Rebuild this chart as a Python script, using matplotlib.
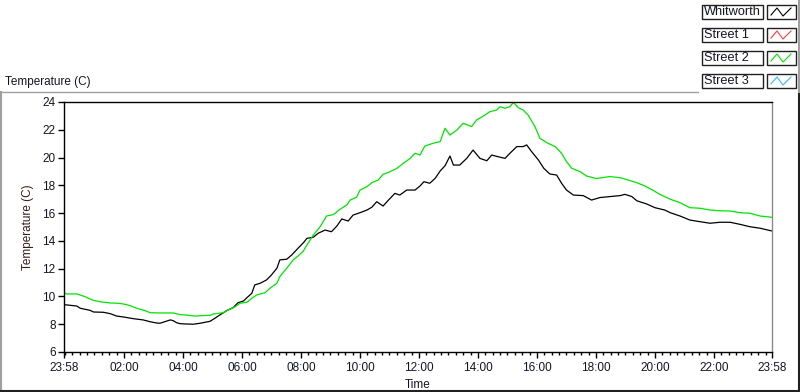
import matplotlib
matplotlib.use("Agg")
import matplotlib.pyplot as plt
from matplotlib.lines import Line2D
from matplotlib.patches import Rectangle

# ---------------- data ----------------
series_names = ["Whitworth", "Street 1", "Street 2", "Street 3"]
series_colors = ["#000000", "#ff3b3b", "#00e400", "#33bbff"]
start_clock = "23:58"

whitworth_times = [
    "23:58", "00:24", "00:31", "00:51", "00:58", "01:18", "01:32", "01:45", "01:59", "02:19",
    "02:39", "02:53", "03:06", "03:13", "03:23", "03:34", "03:40", "03:47", "03:54", "04:04",
    "04:21", "04:35", "04:55", "05:05", "05:15", "05:29", "05:42", "05:52", "06:03", "06:10",
    "06:20", "06:26", "06:37", "06:50", "07:00", "07:11", "07:17", "07:31", "07:41", "07:54",
    "08:05", "08:12", "08:25", "08:35", "08:49", "09:02", "09:13", "09:23", "09:36", "09:46",
    "10:00", "10:14", "10:24", "10:34", "10:47", "10:58", "11:11", "11:21", "11:35", "11:52",
    "12:02", "12:10", "12:22", "12:33", "12:43", "12:53", "13:03", "13:10", "13:23", "13:37",
    "13:50", "14:04", "14:18", "14:28", "14:41", "14:55", "15:05", "15:19", "15:32", "15:39",
    "15:49", "16:03", "16:14", "16:26", "16:40", "16:50", "17:00", "17:14", "17:34", "17:51",
    "18:08", "18:28", "18:49", "18:59", "19:13", "19:23", "19:43", "20:00", "20:20", "20:31",
    "20:51", "21:11", "21:32", "21:52", "22:12", "22:33", "22:53", "23:13", "23:34", "23:58+",
]
whitworth_temp = [
    9.41, 9.31, 9.15, 9.00, 8.88, 8.86, 8.76, 8.59, 8.52, 8.40,
    8.31, 8.18, 8.09, 8.07, 8.18, 8.31, 8.26, 8.11, 8.04, 8.02,
    8.00, 8.07, 8.21, 8.43, 8.67, 8.98, 9.19, 9.55, 9.67, 9.91,
    10.23, 10.83, 10.95, 11.19, 11.55, 12.03, 12.63, 12.68, 12.98, 13.47,
    13.87, 14.18, 14.26, 14.55, 14.78, 14.66, 15.07, 15.58, 15.43, 15.86,
    16.03, 16.22, 16.42, 16.82, 16.51, 16.94, 17.42, 17.30, 17.66, 17.66,
    17.95, 18.26, 18.15, 18.51, 19.03, 19.41, 20.11, 19.46, 19.46, 19.94,
    20.54, 19.94, 19.77, 20.18, 20.06, 19.94, 20.31, 20.79, 20.79, 20.91,
    20.43, 19.82, 19.22, 18.82, 18.74, 18.15, 17.66, 17.30, 17.26, 16.94,
    17.12, 17.19, 17.26, 17.35, 17.19, 16.89, 16.66, 16.39, 16.22, 16.03,
    15.79, 15.50, 15.38, 15.27, 15.34, 15.34, 15.19, 15.02, 14.91, 14.71,
]

street2_times = [
    "23:58", "00:03", "00:24", "00:31", "00:41", "00:51", "00:58", "01:11", "01:32", "01:48",
    "02:02", "02:12", "02:26", "02:43", "02:53", "03:13", "03:40", "03:54", "04:04", "04:24",
    "04:55", "05:02", "05:22", "05:32", "05:46", "05:56", "06:10", "06:20", "06:30", "06:47",
    "06:57", "07:11", "07:17", "07:31", "07:44", "07:54", "08:05", "08:08", "08:25", "08:39",
    "08:52", "09:06", "09:19", "09:33", "09:40", "09:53", "10:00", "10:14", "10:24", "10:37",
    "10:47", "11:01", "11:15", "11:28", "11:42", "11:52", "12:02", "12:12", "12:29", "12:43",
    "12:53", "13:03", "13:17", "13:30", "13:47", "13:57", "14:11", "14:24", "14:38", "14:45",
    "14:55", "15:05", "15:12", "15:22", "15:32", "15:42", "15:56", "16:06", "16:20", "16:37",
    "16:50", "17:00", "17:11", "17:28", "17:41", "18:01", "18:28", "18:49", "19:06", "19:23",
    "19:40", "19:57", "20:10", "20:31", "20:51", "21:11", "21:32", "21:52", "22:12", "22:33",
    "22:53", "23:13", "23:34", "23:58+",
]
street2_temp = [
    10.27, 10.18, 10.18, 10.10, 9.98, 9.82, 9.72, 9.62, 9.53, 9.51,
    9.44, 9.34, 9.15, 8.98, 8.83, 8.81, 8.81, 8.69, 8.67, 8.59,
    8.64, 8.74, 8.83, 9.03, 9.26, 9.51, 9.58, 9.87, 10.11, 10.27,
    10.59, 10.95, 11.43, 12.03, 12.63, 12.91, 13.27, 13.47, 14.42, 15.02,
    15.79, 15.89, 16.27, 16.58, 16.94, 17.14, 17.66, 17.90, 18.19, 18.38,
    18.79, 18.98, 19.22, 19.58, 19.94, 20.31, 20.18, 20.83, 21.03, 21.15,
    22.11, 21.62, 21.98, 22.47, 22.23, 22.70, 22.99, 23.30, 23.42, 23.66,
    23.55, 23.66, 23.98, 23.59, 23.42, 23.06, 22.22, 21.39, 21.07, 20.79,
    20.31, 19.71, 19.22, 18.98, 18.67, 18.49, 18.63, 18.55, 18.38, 18.19,
    17.95, 17.62, 17.35, 17.00, 16.75, 16.39, 16.35, 16.22, 16.17, 16.15,
    16.03, 15.99, 15.79, 15.70,
]

x_tick_labels = ["23:58", "02:00", "04:00", "06:00", "08:00", "10:00", "12:00",
                 "14:00", "16:00", "18:00", "20:00", "22:00", "23:58"]
y_ticks = [6, 8, 10, 12, 14, 16, 18, 20, 22, 24]


def clock_to_elapsed(c):
    """minutes elapsed since the 23:58 start; '+' marks the next day."""
    nxt = c.endswith("+")
    h, m = map(int, c.rstrip("+").split(":"))
    t = h * 60 + m
    sh, sm = map(int, start_clock.split(":"))
    s = sh * 60 + sm
    d = (t - s) % 1440
    if nxt and d == 0:
        d = 1440
    return d


wx = [clock_to_elapsed(c) for c in whitworth_times]
gx = [clock_to_elapsed(c) for c in street2_times]

# ---------------- figure ----------------
W, H = 800, 392
fig = plt.figure(figsize=(W / 100, H / 100), dpi=100)
fig.patch.set_facecolor("white")
FONT = "Liberation Sans"
plt.rcParams["font.family"] = [FONT, "DejaVu Sans"]
txtc = "#141428"


def fx(px):
    return px / W


def fy(py):
    return 1 - py / H


ax = fig.add_axes([fx(64), fy(352), fx(772) - fx(64), fy(102) - fy(352)])
ax.plot(wx, whitworth_temp, color=series_colors[0], lw=0.9)
ax.plot(gx, street2_temp, color=series_colors[2], lw=0.9)

ax.set_xlim(0, 1440)
ax.set_ylim(6, 24)
major = [0] + [122 + 120 * i for i in range(11)] + [1440]
ax.set_xticks(major)
ax.set_xticklabels(x_tick_labels)
ax.set_xticks([2 + 15 * k for k in range(96)], minor=True)
ax.set_yticks(y_ticks)
ax.set_yticklabels([str(v) for v in y_ticks])
ax.tick_params(axis="x", which="major", length=4, width=1, direction="out",
               labelsize=8.5, pad=3.5, colors="black", labelcolor=txtc)
ax.tick_params(axis="x", which="minor", length=2.5, width=1, direction="out", colors="black")
ax.tick_params(axis="y", which="major", length=4, width=1, direction="out",
               labelsize=8.5, pad=2, colors="black", labelcolor=txtc)
for s in ["left", "bottom", "top"]:
    ax.spines[s].set_color("black")
    ax.spines[s].set_linewidth(1.0)
ax.spines["right"].set_color("#8a8a8a")
ax.spines["right"].set_linewidth(1.0)
ax.set_xlabel("Time", fontsize=8.5, color=txtc, labelpad=3.5)
ax.set_ylabel("Temperature (C)", fontsize=8.5, color="#3a1a1a", labelpad=6)

# panel frame
fig.add_artist(Line2D([fx(0), fx(698)], [fy(92), fy(92)], color="#a0a0a0", lw=1))
fig.add_artist(Line2D([fx(0.5), fx(0.5)], [fy(92), fy(391)], color="#a0a0a0", lw=1.5))
fig.add_artist(Line2D([fx(0), fx(800)], [fy(391), fy(391)], color="#202020", lw=1.5))
fig.add_artist(Line2D([fx(799), fx(799)], [fy(92), fy(392)], color="#202020", lw=1.5))
fig.add_artist(Line2D([fx(799), fx(799)], [fy(0), fy(92)], color="#a0a0a0", lw=1.5))

fig.text(fx(5), fy(82), "Temperature (C)", fontsize=8.5, color=txtc, va="center", ha="left")

# legend (LabVIEW-style plot legend)
row_top = [5, 28, 51, 74]
for i, name in enumerate(series_names):
    t = row_top[i]
    fig.add_artist(Rectangle((fx(702), fy(t + 13.5)), fx(763) - fx(702), fy(t) - fy(t + 13.5),
                             transform=fig.transFigure, fill=False, ec="#202020", lw=1))
    fig.text(fx(704), fy(t + 7), name, fontsize=9.2, color=txtc, va="center", ha="left")
    fig.add_artist(Rectangle((fx(767), fy(t + 14)), fx(796) - fx(767), fy(t) - fy(t + 14),
                             transform=fig.transFigure, fill=False, ec="#202020", lw=1))
    zx = [771, 777, 783, 791]
    zy = [t + 10, t + 3, t + 11, t + 3]
    fig.add_artist(Line2D([fx(v) for v in zx], [fy(v) for v in zy],
                          color=series_colors[i], lw=0.8))

fig.savefig("out.png", dpi=100)
